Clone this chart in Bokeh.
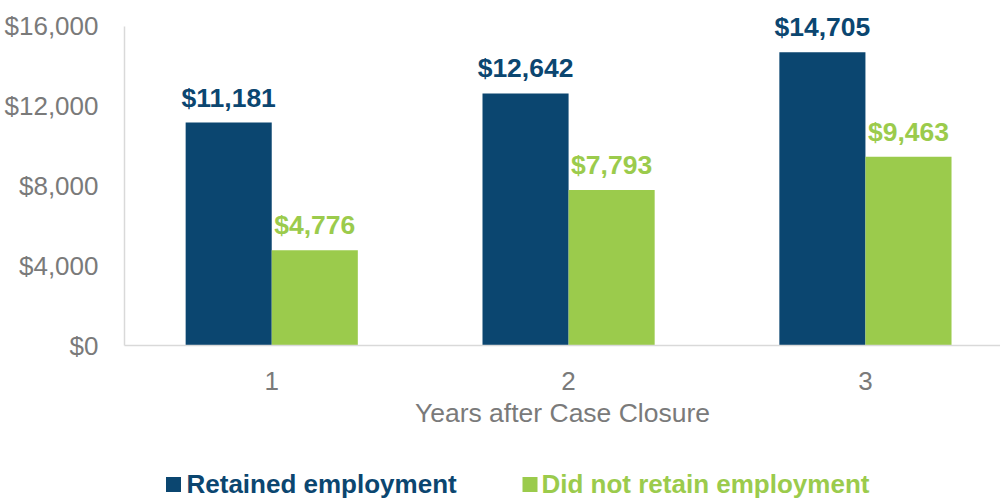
from bokeh.plotting import figure
from bokeh.layouts import column
from bokeh.models import (ColumnDataSource, Range1d, FixedTicker, NumeralTickFormatter)
from bokeh.transform import dodge
from bokeh.core.properties import value
from bokeh.embed import file_html
from bokeh.resources import INLINE

# ---- data ----
years = [1, 2, 3]
year_labels = ["1", "2", "3"]
retained = [11181, 12642, 14705]
not_retained = [4776, 7793, 9463]
series_names = ["Retained employment", "Did not retain employment"]
y_ticks = [0, 4000, 8000, 12000, 16000]
x_title = "Years after Case Closure"

BLUE = "#0b4670"
GREEN = "#9bcb4c"
GRAY = "#7a7a7a"
FONT = "Liberation Sans"

src = ColumnDataSource(dict(
    x=years,
    retained=retained,
    not_retained=not_retained,
    retained_lbl=[f"${v:,}" for v in retained],
    not_retained_lbl=[f"${v:,}" for v in not_retained],
))

FRAME_LEFT = 124
WIDTH = 1000

p = figure(width=WIDTH, height=455, output_backend="svg", toolbar_location=None,
           x_range=Range1d(0.504, 3.455), y_range=Range1d(0, 17300),
           min_border_left=FRAME_LEFT, min_border_right=0, min_border_top=0,
           min_border_bottom=110)
p.outline_line_color = None
p.xgrid.visible = False
p.ygrid.visible = False

bw = 0.29
p.vbar(x=dodge("x", -bw / 2, range=p.x_range), top="retained", width=bw,
       source=src, fill_color=BLUE, line_color=None)
p.vbar(x=dodge("x", bw / 2, range=p.x_range), top="not_retained", width=bw,
       source=src, fill_color=GREEN, line_color=None)

p.text(x=dodge("x", -bw / 2, range=p.x_range), y="retained", text="retained_lbl",
       source=src, text_align="center", text_baseline="middle", y_offset=-25,
       text_font=value(FONT), text_font_style="bold", text_font_size="26.5px",
       text_color=BLUE)
p.text(x=dodge("x", bw / 2, range=p.x_range), y="not_retained", text="not_retained_lbl",
       source=src, text_align="center", text_baseline="middle", y_offset=-25,
       text_font=value(FONT), text_font_style="bold", text_font_size="26.5px",
       text_color=GREEN)

# axes
p.yaxis.ticker = FixedTicker(ticks=y_ticks)
p.yaxis.bounds = (0, 16000)
p.yaxis.formatter = NumeralTickFormatter(format="$0,0")
p.yaxis.major_tick_line_color = None
p.yaxis.minor_tick_line_color = None
p.yaxis.axis_line_color = "#d9d9d9"
p.yaxis.axis_line_width = 1.5
p.yaxis.major_label_standoff = 20
p.yaxis.major_label_text_font = FONT
p.yaxis.major_label_text_font_size = "26px"
p.yaxis.major_label_text_color = GRAY

p.xaxis.ticker = FixedTicker(ticks=years)
p.xaxis.major_label_overrides = {y: l for y, l in zip(years, year_labels)}
p.xaxis.major_tick_line_color = None
p.xaxis.minor_tick_line_color = None
p.xaxis.axis_line_color = "#d9d9d9"
p.xaxis.axis_line_width = 1.5
p.xaxis.major_label_standoff = 20
p.xaxis.major_label_text_font = FONT
p.xaxis.major_label_text_font_size = "26px"
p.xaxis.major_label_text_color = GRAY
p.xaxis.axis_label = x_title
p.xaxis.axis_label_text_font = FONT
p.xaxis.axis_label_text_font_size = "26.5px"
p.xaxis.axis_label_text_font_style = "normal"
p.xaxis.axis_label_text_color = GRAY
p.xaxis.axis_label_standoff = 5

# ---- legend strip (separate small figure; its frame aligns with the main
# frame horizontally, so its x range is expressed in page pixels) ----
LEG_H = 44
leg = figure(width=WIDTH, height=LEG_H, output_backend="svg", toolbar_location=None,
             x_range=Range1d(FRAME_LEFT, WIDTH), y_range=Range1d(LEG_H, 0),
             x_axis_location=None, y_axis_location=None,
             min_border_left=FRAME_LEFT, min_border_right=0, min_border_top=0,
             min_border_bottom=0)
leg.outline_line_color = None
leg.xgrid.visible = False
leg.ygrid.visible = False

leg_src = ColumnDataSource(dict(
    sq_x=[173, 529.5],
    txt_x=[186, 541],
    label=series_names,
    color=[BLUE, GREEN],
))
leg.rect(x="sq_x", y=29, width=15, height=15, width_units="screen",
         height_units="screen", fill_color="color", line_color=None, source=leg_src)
leg.text(x="txt_x", y=28, text="label", text_color="color", source=leg_src,
         text_align="left", text_baseline="middle",
         text_font=value(FONT), text_font_style="bold", text_font_size="26px")

layout = column(p, leg, spacing=0)
open("out.html", "w").write(file_html(layout, INLINE))
